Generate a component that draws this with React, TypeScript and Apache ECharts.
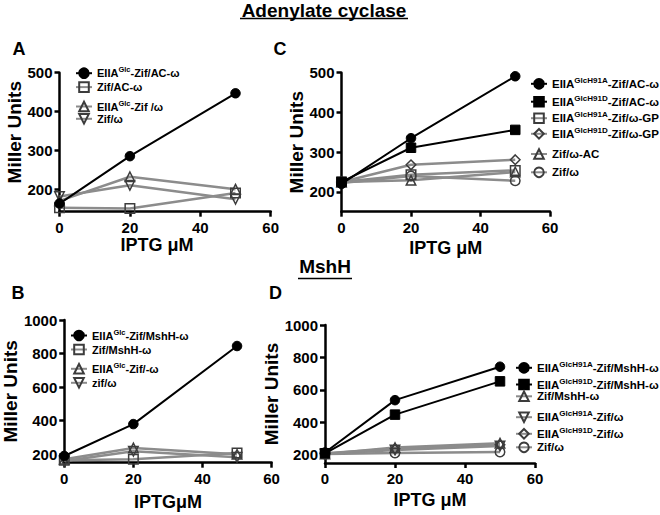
import React, { useEffect, useRef } from 'react';
import * as echarts from 'echarts';

// ---------- data ----------
const IPTG = [0, 20, 50];
const X_TICKS = [0, 20, 40, 60];
const Y_TICKS_AC = [200, 300, 400, 500];
const Y_TICKS_MSHH = [200, 400, 600, 800, 1000];

// Panel A — Adenylate cyclase
const A_EIIA_ZIF_AC = [163, 285, 447];
const A_ZIF_AC = [152, 150, 190];
const A_EIIA_ZIF = [170, 232, 200];
const A_ZIF = [181, 210, 174];

// Panel C — Adenylate cyclase, mutants
const C_H91A_ZIF_AC = [220, 335, 491];
const C_H91D_ZIF_AC = [225, 311, 356];
const C_H91A_ZIF_GP = [225, 243, 254];
const C_H91D_ZIF_GP = [225, 268, 281];
const C_ZIF_AC = [225, 229, 250];
const C_ZIF = [222, 240, 228];

// Panel B — MshH
const B_EIIA_ZIF_MSHH = [190, 380, 845];
const B_ZIF_MSHH = [165, 170, 208];
const B_EIIA_ZIF = [170, 238, 200];
const B_ZIF = [160, 218, 182];

// Panel D — MshH, mutants
const D_H91A_ZIF_MSHH = [215, 537, 743];
const D_H91D_ZIF_MSHH = [210, 448, 653];
const D_ZIF_MSHH = [205, 245, 272];
const D_H91A_ZIF = [205, 230, 255];
const D_H91D_ZIF = [210, 238, 262];
const D_ZIF = [205, 212, 218];

// legend texts (rich)
const LBL_A = [
  '{b|EIIA}{s|Glc}{b|-Zif/AC-ω}',
  '{b|Zif/AC-ω}',
  '{b|EIIA}{s|Glc}{b|-Zif /ω}',
  '{b|Zif/ω}',
];
const LBL_B = [
  '{b|EIIA}{s|Glc}{b|-Zif/MshH-ω}',
  '{b|Zif/MshH-ω}',
  '{b|EIIA}{s|Glc}{b|-Zif/-ω}',
  '{b|zif/ω}',
];
const LBL_C = [
  '{b|EIIA}{s|GlcH91A}{b|-Zif/AC-ω}',
  '{b|EIIA}{s|GlcH91D}{b|-Zif/AC-ω}',
  '{b|EIIA}{s|GlcH91A}{b|-Zif/ω-GP}',
  '{b|EIIA}{s|GlcH91D}{b|-Zif/ω-GP}',
  '{b|Zif/ω-AC}',
  '{b|Zif/ω}',
];
const LBL_D = [
  '{b|EIIA}{s|GlcH91A}{b|-Zif/MshH-ω}',
  '{b|EIIA}{s|GlcH91D}{b|-Zif/MshH-ω}',
  '{b|Zif/MshH-ω}',
  '{b|EIIA}{s|GlcH91A}{b|-Zif/ω}',
  '{b|EIIA}{s|GlcH91D}{b|-Zif/ω}',
  '{b|Zif/ω}',
];

// ---------- layout / style ----------
const FONT = '"Liberation Sans", Arial, Helvetica, sans-serif';
const GRAY = '#8c8c8c';

type Panel = {
  key: string;
  grid: { left: number; top: number; width: number; height: number };
  yMin: number;
  yMax: number;
  yTicks: number[];
  xName: string;
  xNameGap: number;
  xNamePad: number[];
  yNameGap: number;
  yNamePad: number[];
  legendLeft: number;
  legendY: number[];
  legendSize: { b: number; s: number };
  series: { data: number[]; dark: boolean; symbol: string; rotate?: number; label: string }[];
};

const panels: Panel[] = [
  {
    key: 'A',
    grid: { left: 59.5, top: 72.7, width: 211.2, height: 139 },
    yMin: 142, yMax: 500, yTicks: Y_TICKS_AC,
    xName: 'IPTG μM', xNameGap: 24, xNamePad: [0, 16, 0, 0],
    yNameGap: 29, yNamePad: [0, 0, 0, 20],
    legendLeft: 75, legendY: [72.7, 88.3, 106, 120], legendSize: { b: 11, s: 7.5 },
    series: [
      { data: A_EIIA_ZIF_AC, dark: true, symbol: 'circle', label: LBL_A[0] },
      { data: A_ZIF_AC, dark: false, symbol: 'rect', label: LBL_A[1] },
      { data: A_EIIA_ZIF, dark: false, symbol: 'triangle', label: LBL_A[2] },
      { data: A_ZIF, dark: false, symbol: 'triangle', rotate: 180, label: LBL_A[3] },
    ],
  },
  {
    key: 'C',
    grid: { left: 341.5, top: 72.7, width: 208.5, height: 139 },
    yMin: 150, yMax: 500, yTicks: Y_TICKS_AC,
    xName: 'IPTG μM', xNameGap: 27, xNamePad: [0, 0, 0, 0],
    yNameGap: 32, yNamePad: [0, 0, 0, 0],
    legendLeft: 530, legendY: [83.3, 101.2, 117.7, 133.3, 155, 173.3], legendSize: { b: 11.5, s: 8 },
    series: [
      { data: C_H91A_ZIF_AC, dark: true, symbol: 'circle', label: LBL_C[0] },
      { data: C_H91D_ZIF_AC, dark: true, symbol: 'rect', label: LBL_C[1] },
      { data: C_H91A_ZIF_GP, dark: false, symbol: 'rect', label: LBL_C[2] },
      { data: C_H91D_ZIF_GP, dark: false, symbol: 'diamond', label: LBL_C[3] },
      { data: C_ZIF_AC, dark: false, symbol: 'triangle', label: LBL_C[4] },
      { data: C_ZIF, dark: false, symbol: 'circle', label: LBL_C[5] },
    ],
  },
  {
    key: 'B',
    grid: { left: 53.3, top: 320, width: 218.3, height: 142.7 },
    yMin: 150, yMax: 1000, yTicks: Y_TICKS_MSHH,
    xName: 'IPTGμM', xNameGap: 30, xNamePad: [0, 0, 0, 0],
    yNameGap: 34, yNamePad: [0, 0, 0, 0],
    legendLeft: 70, legendY: [335, 350.7, 368.3, 384], legendSize: { b: 11, s: 7.5 },
    series: [
      { data: B_EIIA_ZIF_MSHH, dark: true, symbol: 'circle', label: LBL_B[0] },
      { data: B_ZIF_MSHH, dark: false, symbol: 'rect', label: LBL_B[1] },
      { data: B_EIIA_ZIF, dark: false, symbol: 'triangle', label: LBL_B[2] },
      { data: B_ZIF, dark: false, symbol: 'triangle', rotate: 180, label: LBL_B[3] },
    ],
  },
  {
    key: 'D',
    grid: { left: 325, top: 325, width: 210, height: 138 },
    yMin: 150, yMax: 1000, yTicks: Y_TICKS_MSHH,
    xName: 'IPTG μM', xNameGap: 28, xNamePad: [0, 0, 0, 0],
    yNameGap: 33, yNamePad: [0, 0, 0, 0],
    legendLeft: 515, legendY: [367.3, 384, 397.3, 416.7, 433.3, 448.3], legendSize: { b: 11.5, s: 8 },
    series: [
      { data: D_H91A_ZIF_MSHH, dark: true, symbol: 'circle', label: LBL_D[0] },
      { data: D_H91D_ZIF_MSHH, dark: true, symbol: 'rect', label: LBL_D[1] },
      { data: D_ZIF_MSHH, dark: false, symbol: 'triangle', label: LBL_D[2] },
      { data: D_H91A_ZIF, dark: false, symbol: 'triangle', rotate: 180, label: LBL_D[3] },
      { data: D_H91D_ZIF, dark: false, symbol: 'diamond', label: LBL_D[4] },
      { data: D_ZIF, dark: false, symbol: 'circle', label: LBL_D[5] },
    ],
  },
];

function buildOption() {
  const grids: any[] = [];
  const xAxes: any[] = [];
  const yAxes: any[] = [];
  const series: any[] = [];
  const legends: any[] = [];

  panels.forEach((p, gi) => {
    grids.push({ ...p.grid, containLabel: false });
    const axisLine = { show: true, onZero: false, lineStyle: { color: '#000', width: 2.5 } };
    const tick = { show: true, length: 5, lineStyle: { color: '#000', width: 2.5 } };
    xAxes.push({
      type: 'value', gridIndex: gi, min: 0, max: 60, interval: 20,
      name: p.xName, nameLocation: 'middle', nameGap: p.xNameGap,
      nameTextStyle: { fontFamily: FONT, fontWeight: 'bold', fontSize: 18, color: '#000', padding: p.xNamePad },
      axisLine, axisTick: { ...tick, customValues: X_TICKS },
      axisLabel: {
        fontFamily: FONT, fontWeight: 'bold', fontSize: 15, color: '#000', margin: 8,
        customValues: X_TICKS, formatter: (v: number) => String(v),
      },
      splitLine: { show: false },
    });
    yAxes.push({
      type: 'value', gridIndex: gi, min: p.yMin, max: p.yMax,
      name: 'Miller Units', nameLocation: 'middle', nameGap: p.yNameGap,
      nameTextStyle: { fontFamily: FONT, fontWeight: 'bold', fontSize: 19, color: '#000', padding: p.yNamePad },
      axisLine, axisTick: { ...tick, customValues: p.yTicks },
      axisLabel: {
        fontFamily: FONT, fontWeight: 'bold', fontSize: 15, color: '#000', margin: 7,
        customValues: p.yTicks, formatter: (v: number) => String(v),
      },
      splitLine: { show: false },
    });
    const rich = {
      b: { fontFamily: FONT, fontWeight: 'bold', fontSize: p.legendSize.b, lineHeight: 15, color: '#000' },
      s: { fontFamily: FONT, fontWeight: 'bold', fontSize: p.legendSize.s, lineHeight: 7, verticalAlign: 'top', color: '#000' },
    };
    p.series.forEach((s, si) => {
      const id = `${p.key}${si}`;
      series.push({
        type: 'line', name: id, xAxisIndex: gi, yAxisIndex: gi,
        data: IPTG.map((x, i) => [x, s.data[i]]),
        symbol: s.symbol, symbolSize: 9.5, symbolRotate: s.rotate || 0,
        z: s.dark ? 4 : 3,
        lineStyle: { color: s.dark ? '#000' : GRAY, width: s.dark ? 2 : 2.5 },
        itemStyle: s.dark
          ? { color: '#000', borderColor: '#000', borderWidth: 1 }
          : { color: 'rgba(255,255,255,0)', borderColor: '#3c3c3c', borderWidth: 1.5 },
        emphasis: { disabled: true },
      });
      legends.push({
        data: [id], left: p.legendLeft, top: p.legendY[si] - 7,
        itemWidth: 16, itemHeight: 12, itemGap: 0, padding: 0,
        selectedMode: false, formatter: () => s.label,
        textStyle: { rich, padding: [0, 0, 0, 0] },
      });
    });
  });

  const letter = (t: string, x: number, y: number) => ({
    type: 'text', x, y,
    style: { text: t, fontFamily: FONT, fontWeight: 'bold', fontSize: 18, fill: '#000', align: 'center', verticalAlign: 'middle' },
  });

  return {
    animation: false,
    backgroundColor: '#fff',
    grid: grids, xAxis: xAxes, yAxis: yAxes, series, legend: legends,
    graphic: [
      {
        type: 'text', x: 324, y: 10,
        style: { text: 'Adenylate cyclase', fontFamily: FONT, fontWeight: 'bold', fontSize: 19, fill: '#000', align: 'center', verticalAlign: 'middle' },
      },
      { type: 'line', shape: { x1: 240, y1: 18.5, x2: 408, y2: 18.5 }, style: { stroke: '#000', lineWidth: 1.6 } },
      {
        type: 'text', x: 325, y: 266.5,
        style: { text: 'MshH', fontFamily: FONT, fontWeight: 'bold', fontSize: 19, fill: '#000', align: 'center', verticalAlign: 'middle' },
      },
      { type: 'line', shape: { x1: 298, y1: 278.5, x2: 352, y2: 278.5 }, style: { stroke: '#000', lineWidth: 1.6 } },
      letter('A', 19, 49),
      letter('C', 280, 49),
      letter('B', 18, 292.5),
      letter('D', 275.5, 292.5),
    ],
  };
}

export default function App() {
  const ref = useRef<HTMLDivElement>(null);
  useEffect(() => {
    const chart = echarts.init(ref.current!, null, { renderer: 'svg' });
    chart.setOption(buildOption() as any);
    return () => chart.dispose();
  }, []);
  return (
    <div
      ref={ref}
      style={{ position: 'absolute', left: 0, top: 0, width: 660, height: 515, background: '#fff' }}
    />
  );
}
